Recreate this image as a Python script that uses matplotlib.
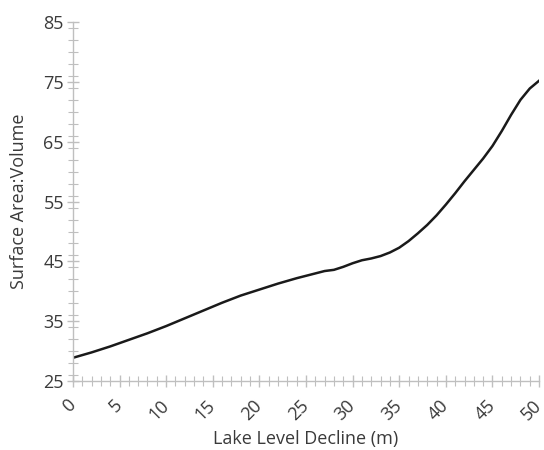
import matplotlib
matplotlib.use("Agg")
import matplotlib.pyplot as plt
from matplotlib.ticker import MultipleLocator

decline_m = [0, 2, 4, 6, 8, 10, 12, 14, 16, 18, 20, 22, 24, 26, 27, 28, 29, 30,
             31, 32, 33, 34, 35, 36, 37, 38, 39, 40, 41, 42, 43, 44, 45, 46, 47,
             48, 49, 50]
sa_volume = [28.9, 29.8, 30.8, 31.9, 33.0, 34.2, 35.5, 36.8, 38.1, 39.3, 40.3,
             41.3, 42.2, 43.0, 43.4, 43.6, 44.1, 44.7, 45.2, 45.5, 45.9, 46.5,
             47.3, 48.4, 49.7, 51.1, 52.7, 54.5, 56.4, 58.4, 60.3, 62.2, 64.3,
             66.8, 69.5, 72.0, 73.9, 75.2]
x_ticks = [0, 5, 10, 15, 20, 25, 30, 35, 40, 45, 50]
y_ticks = [25, 35, 45, 55, 65, 75, 85]

plt.rcParams['font.family'] = ['Open Sans', 'DejaVu Sans']
text_color = '#3a3a3a'
grey = '#bfbfbf'

fig = plt.figure(figsize=(5.44, 4.5), dpi=100)
ax = fig.add_axes([0.134, 0.153, 0.857, 0.798])
ax.plot(decline_m, sa_volume, color='#1a1a1a', lw=1.8)

ax.set_xlim(0, 50)
ax.set_ylim(25, 85)
ax.set_xticks(x_ticks)
ax.set_yticks(y_ticks)
ax.xaxis.set_minor_locator(MultipleLocator(1))
ax.yaxis.set_minor_locator(MultipleLocator(2))
ax.set_xticklabels([str(t) for t in x_ticks], rotation=45, ha='right',
                   va='center', rotation_mode='anchor')

for s in ['top', 'right']:
    ax.spines[s].set_visible(False)
for s in ['left', 'bottom']:
    ax.spines[s].set_color(grey)
    ax.spines[s].set_linewidth(1.0)

ax.tick_params(which='major', direction='inout', length=9, width=1.0,
               color=grey, labelcolor=text_color, labelsize=13, pad=2)
ax.tick_params(axis='x', which='major', pad=11)
ax.tick_params(which='minor', direction='inout', length=7, width=0.8, color=grey)

ax.set_xlabel('Lake Level Decline (m)', color=text_color, fontsize=13)
ax.set_ylabel('Surface Area:Volume', color=text_color, fontsize=13)
ax.xaxis.set_label_coords(0.5, -0.135)
ax.yaxis.set_label_coords(-0.097, 0.5)

fig.savefig('out.png', dpi=100)
